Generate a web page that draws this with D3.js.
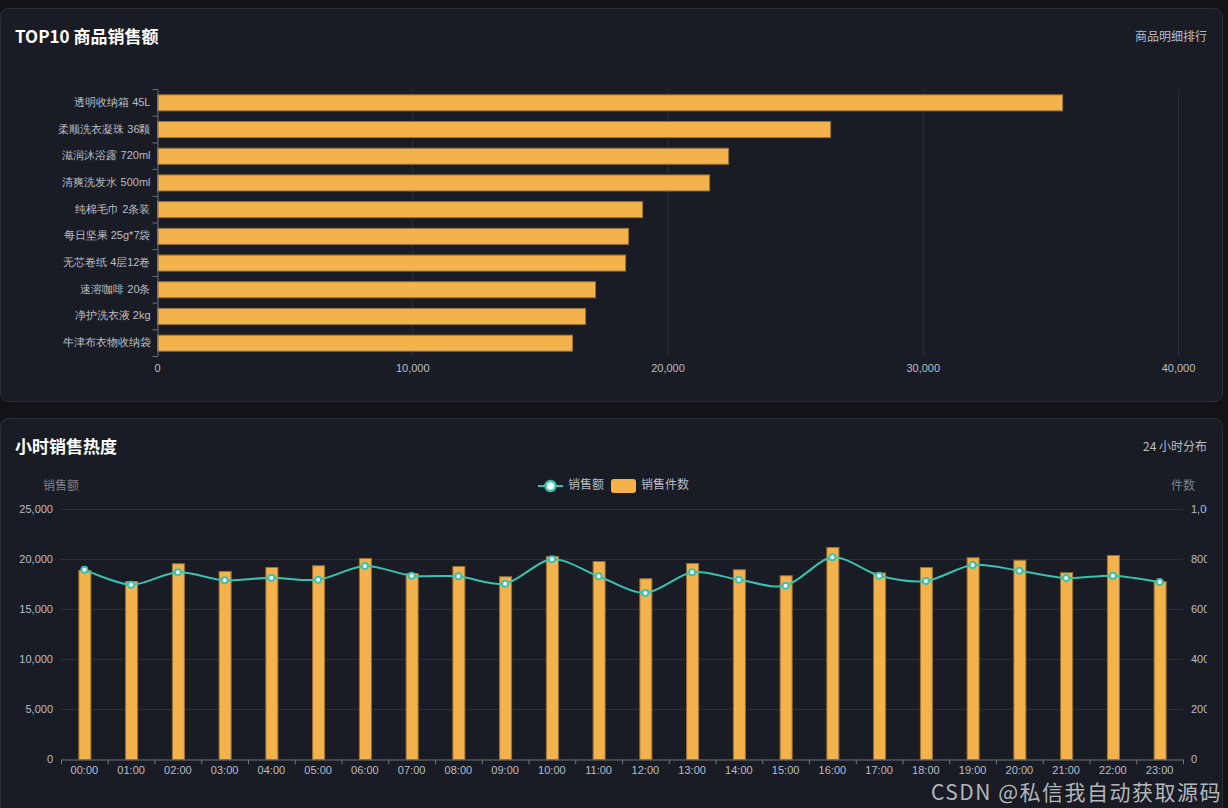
<!DOCTYPE html>
<html>
<head>
<meta charset="utf-8">
<script src="https://cdn.jsdelivr.net/npm/d3@7"></script>
<style>
  html, body { margin: 0; padding: 0; background: #111317; }
  svg { display: block; font-family: "Noto Sans CJK SC", "Noto Sans", sans-serif; }
</style>
</head>
<body>
<svg id="page" width="1228" height="808"></svg>
<script>
// top 10 products
const products = ["透明收纳箱 45L", "柔顺洗衣凝珠 36颗", "滋润沐浴露 720ml", "清爽洗发水 500ml", "纯棉毛巾 2条装",
  "每日坚果 25g*7袋", "无芯卷纸 4层12卷", "速溶咖啡 20条", "净护洗衣液 2kg", "牛津布衣物收纳袋"];
const productSales = [35460, 26370, 22375, 21630, 19005, 18455, 18340, 17160, 16770, 16260];
const salesTicks = [0, 10000, 20000, 30000, 40000];

// hourly
const hours = ["00:00", "01:00", "02:00", "03:00", "04:00", "05:00", "06:00", "07:00", "08:00", "09:00", "10:00", "11:00",
  "12:00", "13:00", "14:00", "15:00", "16:00", "17:00", "18:00", "19:00", "20:00", "21:00", "22:00", "23:00"];
const hourAmount = [18930, 17430, 18670, 17870, 18130, 17930, 19300, 18330, 18270, 17530, 19980, 18270,
  16600, 18670, 17930, 17330, 20170, 18330, 17800, 19400, 18830, 18100, 18330, 17700];
const hourCount = [756, 712, 783, 752, 768, 775, 804, 744, 772, 731, 812, 792,
  723, 784, 759, 735, 848, 746, 768, 807, 797, 747, 816, 711];
const amountTicks = [0, 5000, 10000, 15000, 20000, 25000];
const countTicks = [0, 200, 400, 600, 800, 1000];

const ORANGE = "#f4b24d", ORANGE_EDGE = "#9a7236", TEAL = "#38c3b0";
const GRID = "#2b2e36", AXIS = "#6e7079", LABEL = "#b9bdc6", NAME = "#7d818b";

const svg = d3.select("#page");

// panels
function panel(y, h) {
  svg.append("rect").attr("x", 0.5).attr("y", y + 0.5).attr("width", 1222).attr("height", h)
    .attr("rx", 8).attr("fill", "#191c24").attr("stroke", "#2b2e36");
}
panel(8, 393);
panel(418, 410);

function header(y, title, sub) {
  svg.append("text").attr("x", 15).attr("y", y).attr("fill", "#ffffff")
    .attr("font-size", 17).attr("font-weight", "bold").attr("dominant-baseline", "middle").text(title);
  svg.append("text").attr("x", 1207).attr("y", y).attr("fill", LABEL).attr("text-anchor", "end")
    .attr("font-size", 12).attr("dominant-baseline", "middle").text(sub);
}
header(38, "TOP10 商品销售额", "商品明细排行");
header(448, "小时销售热度", "24 小时分布");

// ---- top bar chart ----
let xScale = d3.scaleLinear().domain([0, 40000]).range([157, 1178]);
let yBand = d3.scaleBand().domain(products).range([89, 356]).paddingInner(0.4).paddingOuter(0.2);

let topChart = svg.append("g");
topChart.selectAll("line.grid").data(salesTicks.slice(1)).enter().append("line")
  .attr("x1", d => xScale(d) + 0.5).attr("x2", d => xScale(d) + 0.5)
  .attr("y1", 89).attr("y2", 356).attr("stroke", GRID);

topChart.selectAll("rect.bar").data(productSales).enter().append("rect")
  .attr("x", xScale(0) + 0.5)
  .attr("y", (d, i) => yBand(products[i]) + 0.5)
  .attr("width", d => xScale(d) - xScale(0))
  .attr("height", yBand.bandwidth())
  .attr("fill", ORANGE).attr("stroke", ORANGE_EDGE).attr("stroke-width", 1);

let yAxisTop = topChart.append("g").attr("transform", "translate(157.5,0)")
  .call(d3.axisLeft(d3.scaleBand().domain(products).range([89, 356])).tickSize(0).tickPadding(7));
yAxisTop.select(".domain").attr("stroke", AXIS);
yAxisTop.selectAll("text").attr("fill", LABEL).attr("font-size", 11).attr("font-family", null);
// ticks on band boundaries
let step = (356 - 89) / products.length;
yAxisTop.selectAll("line.bound").data(d3.range(products.length + 1)).enter().append("line")
  .attr("x1", -5).attr("x2", 0).attr("y1", i => 89 + i * step + 0.5).attr("y2", i => 89 + i * step + 0.5)
  .attr("stroke", AXIS);

let xAxisTop = topChart.append("g").attr("transform", "translate(0,356)")
  .call(d3.axisBottom(xScale).tickValues(salesTicks).tickSize(0).tickPadding(8).tickFormat(d3.format(",")));
xAxisTop.select(".domain").remove();
xAxisTop.selectAll("text").attr("fill", LABEL).attr("font-size", 11).attr("font-family", null);

// ---- hourly chart ----
svg.append("clipPath").attr("id", "clipBottom").append("rect")
  .attr("x", 0).attr("y", 418).attr("width", 1207).attr("height", 400);
let bot = svg.append("g").attr("clip-path", "url(#clipBottom)");

let xHour = d3.scaleBand().domain(hours).range([61, 1183]);
let yAmount = d3.scaleLinear().domain([0, 25000]).range([759, 509]);
let yCount = d3.scaleLinear().domain([0, 1000]).range([759, 509]);

bot.selectAll("line.grid").data(amountTicks.slice(1)).enter().append("line")
  .attr("x1", 61).attr("x2", 1183).attr("y1", d => yAmount(d) + 0.5).attr("y2", d => yAmount(d) + 0.5)
  .attr("stroke", GRID);

let barW = 12;
bot.selectAll("rect.bar").data(hourCount).enter().append("rect")
  .attr("x", (d, i) => xHour(hours[i]) + xHour.bandwidth() / 2 - barW / 2 + 0.5)
  .attr("y", d => yCount(d) + 0.5)
  .attr("width", barW)
  .attr("height", d => yCount(0) - yCount(d))
  .attr("fill", ORANGE).attr("stroke", ORANGE_EDGE).attr("stroke-width", 1);

let line = d3.line()
  .x((d, i) => xHour(hours[i]) + xHour.bandwidth() / 2)
  .y(d => yAmount(d))
  .curve(d3.curveCardinal.tension(0.1));
bot.append("path").datum(hourAmount).attr("d", line)
  .attr("fill", "none").attr("stroke", TEAL).attr("stroke-width", 2);
bot.selectAll("circle.pt").data(hourAmount).enter().append("circle")
  .attr("cx", (d, i) => xHour(hours[i]) + xHour.bandwidth() / 2)
  .attr("cy", d => yAmount(d))
  .attr("r", 3).attr("fill", "#ffffff").attr("stroke", TEAL).attr("stroke-width", 2);

let leftAxis = bot.append("g").attr("transform", "translate(61,0)")
  .call(d3.axisLeft(yAmount).tickValues(amountTicks).tickSize(0).tickPadding(8).tickFormat(d3.format(",")));
leftAxis.select(".domain").remove();
leftAxis.selectAll("text").attr("fill", LABEL).attr("font-size", 11).attr("font-family", null);

let rightAxis = bot.append("g").attr("transform", "translate(1183,0)")
  .call(d3.axisRight(yCount).tickValues(countTicks).tickSize(0).tickPadding(8).tickFormat(d3.format(",")));
rightAxis.select(".domain").remove();
rightAxis.selectAll("text").attr("fill", LABEL).attr("font-size", 11).attr("font-family", null);

let xAxisBot = bot.append("g").attr("transform", "translate(0,759.5)")
  .call(d3.axisBottom(xHour).tickSize(0).tickPadding(7));
xAxisBot.select(".domain").attr("stroke", AXIS);
xAxisBot.selectAll("text").attr("fill", LABEL).attr("font-size", 11).attr("font-family", null);
xAxisBot.selectAll("line.bound").data(d3.range(hours.length + 1)).enter().append("line")
  .attr("x1", i => 61 + i * xHour.step() + 0.5).attr("x2", i => 61 + i * xHour.step() + 0.5)
  .attr("y1", 0).attr("y2", 5).attr("stroke", AXIS);

// axis names
bot.append("text").attr("x", 61).attr("y", 487).attr("text-anchor", "middle").attr("dominant-baseline", "middle")
  .attr("fill", NAME).attr("font-size", 12).text("销售额");
bot.append("text").attr("x", 1183).attr("y", 487).attr("text-anchor", "middle").attr("dominant-baseline", "middle")
  .attr("fill", NAME).attr("font-size", 12).text("件数");

// legend
let lg = svg.append("g").attr("transform", "translate(538,486)");
lg.append("line").attr("x1", 0).attr("x2", 25).attr("y1", 0).attr("y2", 0).attr("stroke", TEAL).attr("stroke-width", 2);
lg.append("circle").attr("cx", 12.5).attr("cy", 0).attr("r", 5).attr("fill", "#ffffff").attr("stroke", TEAL).attr("stroke-width", 2.5);
lg.append("text").attr("x", 30).attr("y", 0).attr("dominant-baseline", "middle").attr("fill", LABEL).attr("font-size", 12).text("销售额");
lg.append("rect").attr("x", 73).attr("y", -7).attr("width", 25).attr("height", 14).attr("rx", 3).attr("fill", ORANGE);
lg.append("text").attr("x", 103).attr("y", 0).attr("dominant-baseline", "middle").attr("fill", LABEL).attr("font-size", 12).text("销售件数");

// watermark
svg.append("text").attr("x", 1222).attr("y", 800).attr("text-anchor", "end").attr("fill", "#cfd1d6")
  .attr("font-size", 21).attr("letter-spacing", 1.5).attr("opacity", 0.85).text("CSDN @私信我自动获取源码");
</script>
</body>
</html>
